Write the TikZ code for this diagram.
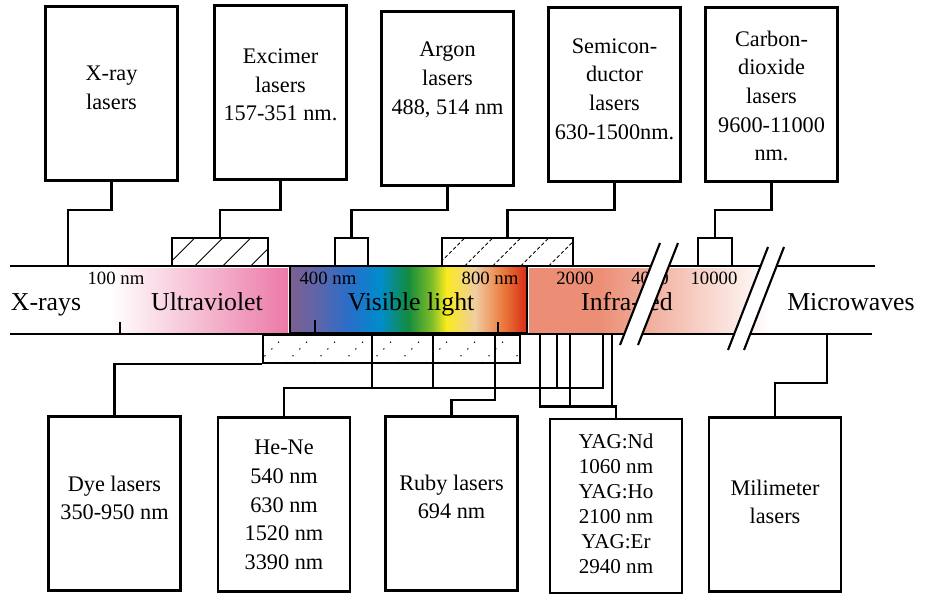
\documentclass[tikz,border=0pt]{standalone}
\usepackage{fontspec}
\setmainfont{Liberation Serif}
\usetikzlibrary{calc}

\definecolor{uvpink}{RGB}{236,122,168}
\definecolor{irsalmon}{RGB}{236,142,118}
\definecolor{vviolet}{RGB}{122,96,142}
\definecolor{vindigo}{RGB}{100,100,168}
\definecolor{vblue}{RGB}{40,110,200}
\definecolor{vcyan}{RGB}{0,140,205}
\definecolor{vgreen}{RGB}{20,140,60}
\definecolor{vlime}{RGB}{130,190,40}
\definecolor{vyellow}{RGB}{250,235,30}
\definecolor{vpeach}{RGB}{240,205,160}
\definecolor{vorange}{RGB}{235,120,60}
\definecolor{vred}{RGB}{215,45,20}

\pgfdeclarehorizontalshading{spectrum}{100bp}{color(0bp)=(vviolet); color(25bp)=(vviolet); color(30bp)=(vindigo); color(37.5bp)=(vblue); color(44bp)=(vcyan); color(50bp)=(vgreen); color(55bp)=(vlime); color(58bp)=(vyellow); color(64bp)=(vpeach); color(70bp)=(vorange); color(75bp)=(vred); color(100bp)=(vred)}

\begin{document}
\begin{tikzpicture}[x=0.03cm, y=-0.03cm, every node/.style={align=center}, line/.style={line width=2.2pt, draw=black}]

% styles
\tikzset{
  lbox/.style={rectangle, draw=black, line width=2.4pt, minimum width=3.96cm, minimum height=5.22cm, inner sep=0pt},
  ltext/.style={font=\fontsize{19}{24.5}\selectfont, inner sep=0pt},
  rangebox/.style={rectangle, draw=black, line width=2pt, minimum height=0.84cm, inner sep=0pt},
  hatch/.style={path picture={\foreach \k in {0,...,12} \draw[black, line width=0.8pt, #1] ([xshift=\k*0.84cm-1cm]path picture bounding box.south west) -- ++(1.3cm,1.3cm);}},
  bandtext/.style={font=\fontsize{22}{26}\selectfont, inner sep=0pt, anchor=base},
  nmlabel/.style={font=\fontsize{16}{18}\selectfont, inner sep=0pt, anchor=base}
}

\useasboundingbox (0,0) rectangle (926,595);

% spectrum band
\shade[left color=white, right color=uvpink] (110,268) rectangle (288,332);
\shade[shading=spectrum] (290,267) rectangle (527,333);
\fill[irsalmon] (529,268) rectangle (600,333);
\shade[left color=irsalmon, right color=white] (600,268) rectangle (770,333);
\draw[line width=2pt] (290,266) rectangle (527,333);

\node[bandtext] (xrays) at (46,310) {X-rays};
\node[bandtext] (uv) at (207,310) {Ultraviolet};
\node[bandtext] (vis) at (411,310) {Visible light};
\node[bandtext] (ir) at (627,310) {Infra-red};
\node[bandtext] (mw) at (851,310) {Microwaves};

\node[nmlabel] (l100) at (116,284) {100 nm};
\node[nmlabel] (l400) at (328,284) {400 nm};
\node[nmlabel] (l800) at (490,284) {800 nm};
\node[nmlabel] (l2000) at (575,284) {2000};
\node[nmlabel] (l4000) at (650,284) {4000};
\node[nmlabel] (l10000) at (714,284) {10000};

\draw[line width=1.5pt] (120,322) -- (120,334);
\draw[line width=1.5pt] (315,320) -- (315,333);
\draw[line width=1.5pt] (498,322) -- (498,333);

\draw[line] (10,266) -- (875,266);
\draw[line] (10,334) -- (872,334);

% breaks in the scale
\fill[white] (620,345) -- (660,243) -- (678,243) -- (638,345) -- cycle;
\fill[white] (728,350) -- (768,247) -- (784,247) -- (744,350) -- cycle;
\draw[line width=1.8pt] (620,345) -- (660,243) (638,345) -- (678,243);
\draw[line width=1.8pt] (728,350) -- (768,247) (744,350) -- (784,247);

% laser boxes above the band
\node[lbox] (xray) at (111.5,93.5) {};
\node[lbox] (excimer) at (280.5,92.5) {};
\node[lbox] (argon) at (447.5,98.5) {};
\node[lbox] (semicon) at (614.5,94.5) {};
\node[lbox] (co2) at (771.5,94.5) {};

\node[ltext] (xrayt) at (111.5,88) {X-ray\\lasers};
\node[ltext] (excimert) at (280.5,85) {Excimer\\lasers\\157-351 nm.};
\node[ltext] (argont) at (447.5,80) {Argon\\lasers\\488, 514 nm};
\node[ltext] (semicont) at (614.5,89) {Semicon-\\ductor\\lasers\\630-1500nm.};
\node[ltext] (co2t) at (771.5,96) {Carbon-\\dioxide\\lasers\\9600-11000\\nm.};

% wavelength ranges
\node[rangebox, minimum width=2.88cm, hatch=solid] (excr) at (220,252) {};
\node[rangebox, minimum width=0.99cm] (arr) at (351.5,252) {};
\node[rangebox, minimum width=3.93cm, hatch=densely dashed] (semr) at (507.5,252) {};
\node[rangebox, minimum width=1.02cm] (co2r) at (715,252) {};
\node[rangebox, minimum width=7.71cm, hatch={dash pattern=on 1.2pt off 7pt}] (dyer) at (391.5,349) {};

\coordinate (xtop) at (68,266);
\draw[line] (xray.south) -- ++(0,28) -| (xtop);
\draw[line] (excimer.south) -- ++(0,29) -| (excr.north);
\draw[line] (argon.south) -- ++(0,23) -| (arr.north);
\draw[line] (semicon.south) -- ++(0,27) -| (semr.north);
\draw[line] (co2.south) -- ++(0,27) -| (co2r.north);

% laser boxes below the band
\node[lbox] (dye) at (114.5,503.5) {};
\node[lbox] (hene) at (284,504.5) {};
\node[lbox] (ruby) at (451.5,503.5) {};
\node[lbox] (yag) at (616,506) {};
\node[lbox] (mili) at (775,504.5) {};

\node[ltext] (dyet) at (114.5,498) {Dye lasers\\350-950 nm};
\node[ltext] (henet) at (284,505) {He-Ne\\540 nm\\630 nm\\1520 nm\\3390 nm};
\node[ltext] (rubyt) at (451.5,497) {Ruby lasers\\694 nm};
\node[ltext, font=\fontsize{18}{21.3}\selectfont] (yagt) at (616,504) {YAG:Nd\\1060 nm\\YAG:Ho\\2100 nm\\YAG:Er\\2940 nm};
\node[ltext] (milit) at (775,502) {Milimeter\\lasers};

\coordinate (nm540) at (372,334);
\coordinate (nm630) at (433,334);
\coordinate (nm694) at (495,334);
\coordinate (nm1060) at (540,334);
\coordinate (nm1520) at (557,334);
\coordinate (nm2100) at (570,334);
\coordinate (nm3390) at (603,334);
\coordinate (nm2940) at (612,334);
\coordinate (mmw) at (827,334);

\draw[line] (dyer.south west) -| (dye.north);
\draw[line] (hene.north) -- ++(0,-28) -| (nm3390);
\draw[line] (nm540) -- ++(0,54);
\draw[line] (nm630) -- ++(0,54);
\draw[line] (nm1520) -- ++(0,54);
\draw[line] (ruby.north) -- ++(0,-15) -| (nm694);
\draw[line] (yag.north) -- ++(0,-11) -| (nm1060);
\draw[line] (nm2100) -- ++(0,73);
\draw[line] (nm2940) -- ++(0,73);
\draw[line] (mili.north) -- ++(0,-33) -| (mmw);

\end{tikzpicture}
\end{document}
